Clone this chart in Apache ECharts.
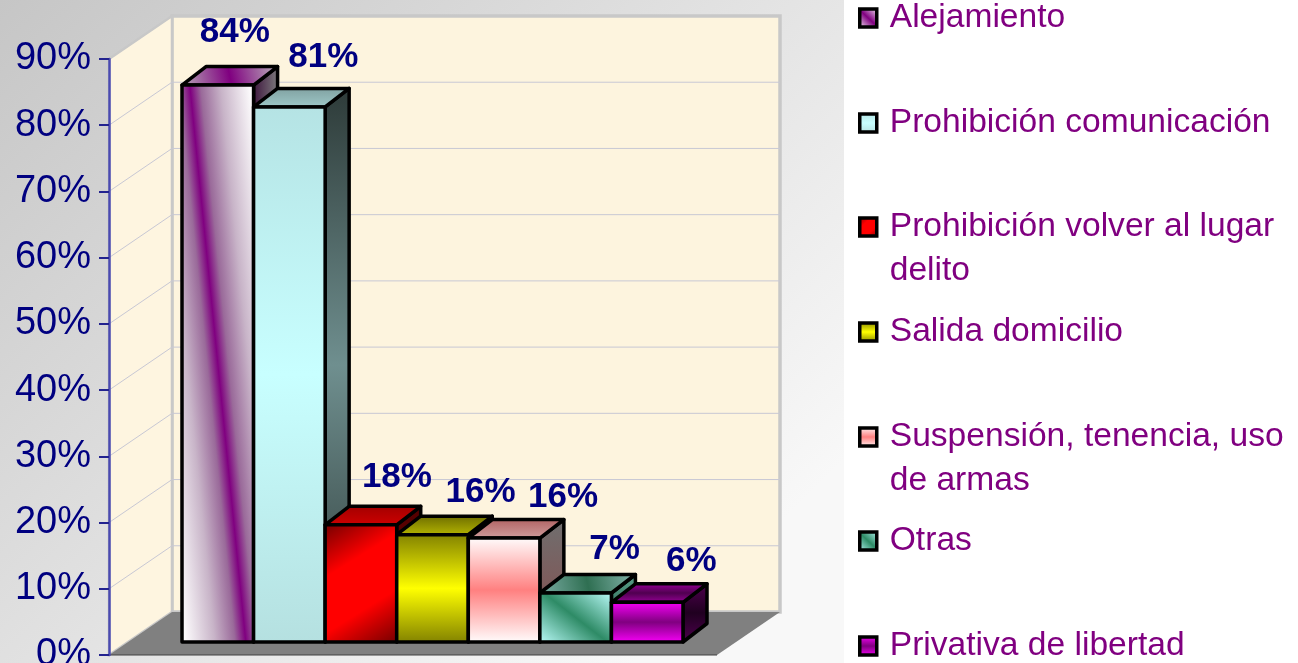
<!DOCTYPE html>
<html>
<head>
<meta charset="utf-8">
<style>html,body{margin:0;padding:0;background:#fff;overflow:hidden}#c{width:1298px;height:663px}</style>
<script src="https://cdn.jsdelivr.net/npm/echarts@6/dist/echarts.min.js"></script>
</head>
<body>
<div id="c"></div>
<script>
// ---- data ----
const categories = ['Alejamiento','Prohibición comunicación','Prohibición volver al lugar delito','Salida domicilio','Suspensión, tenencia, uso de armas','Otras','Privativa de libertad'];
const values = [84.1, 80.8, 17.7, 16.2, 15.7, 7.4, 6.0];
const legendLines = [['Alejamiento'],['Prohibición comunicación'],['Prohibición volver al lugar','delito'],['Salida domicilio'],['Suspensión, tenencia, uso','de armas'],['Otras'],['Privativa de libertad']];
const axisMax = 90, axisStep = 10;

// ---- styles ----
const FONT = '"Liberation Sans", Arial, sans-serif';
const g = (x,y,x2,y2,cols) => ({type:'linear',x,y,x2,y2,colorStops:cols.map((c,i)=>Array.isArray(c)?{offset:c[0],color:c[1]}:{offset:i/(cols.length-1),color:c})});
const purpleStops = [[0.04,'#ffffff'],[0.27,'#c8b4c8'],[0.42,'#9a6a9a'],[0.5,'#800080'],[0.58,'#9a6a9a'],[0.73,'#c8b4c8'],[0.96,'#ffffff']];
const barStyles = [
 {front:g(-0.39,0.512,1.39,0.488,purpleStops), icon:g(0,1,1,0,['#ffffff','#800080','#ffffff']), top:g(0,1,1,0,['#b8b0b8','#800080','#bcb8bc']), side:g(0,0,1,0,['#3a103a','#808080']), dx:17, dy:-53},
 {front:g(0,0,0,1,['#b5e3e4','#c8ffff','#b5e0e0']), top:g(0,0,0,1,['#7f9f9f','#a0caca']), side:g(0,0,0,1,['#2d3a38','#6f8f8f','#2d3a38']), dx:34, dy:-50},
 {front:g(0,0,1,1,['#700000','#ff0000','#ff0000','#700000']), top:g(0,0,0,1,['#a00000','#d00000']), side:g(0,0,0,1,['#500000','#800000']), dx:36, dy:-47},
 {front:g(0,0,0,1,['#808000','#ffff00','#808000']), top:g(0,0,0,1,['#6a6a00','#b8b800']), side:g(0,0,0,1,['#404000','#808000']), dx:48, dy:-42},
 {front:g(0,0,0,1,['#ffffff','#ff8080','#ffffff']), top:g(0,0,0,1,['#b06060','#d0a0a0']), side:g(0,0,0,1,['#6f6f6f','#8a4a4a']), dx:59, dy:-41},
 {front:g(0.144,1.16,0.856,-0.16,['#c0ffff','#2e8b66','#c0ffff']), icon:g(0,1,1,0,['#c0ffff','#2e8b66','#c0ffff']), top:g(0,1,1,0,['#7fb0a8','#2f6f52','#88b8b0']), side:g(0,1,1,0,['#1f5a44','#5a9f8a']), dx:39, dy:-44},
 {front:g(0,0,0,1,['#ff00ff','#800080','#ff00ff']), top:g(0,0,0,1,['#a000a0','#500050','#a000a0']), side:g(0,0,0,1,['#500050','#200020','#500050']), dx:44, dy:-41}
];
const WALL = {dx:63, dy:-43};
const BAR_DEPTH = {dx:24, dy:-18.5};
const legendCentres = [18,123,227,332,437,541,646];

// ---- renderers ----
function renderRoom(params, api){
  const cs = params.coordSys;
  const x0 = cs.x, x1 = cs.x + cs.width;
  const yAt = v => api.coord([0, v])[1];
  const y0 = yAt(0), yT = yAt(axisMax);
  const d = WALL, c = [];
  const grey = '#c8c8c8';
  c.push({type:'rect',shape:{x:x0+d.dx,y:yT+d.dy,width:x1-x0,height:y0-yT},style:{fill:'#fdf4de',stroke:grey,lineWidth:3.5}});
  c.push({type:'polygon',shape:{points:[[x0,yT],[x0+d.dx,yT+d.dy],[x0+d.dx,y0+d.dy],[x0,y0]]},style:{fill:'#fef5e0',stroke:grey,lineWidth:2.5}});
  for(let v=axisStep; v<axisMax; v+=axisStep){
    const y = yAt(v);
    c.push({type:'polyline',shape:{points:[[x0,y],[x0+d.dx,y+d.dy],[x1+d.dx,y+d.dy]]},style:{fill:'none',stroke:'#c8c8d4',lineWidth:1}});
  }
  c.push({type:'polygon',shape:{points:[[x0,y0],[x1,y0],[x1+d.dx,y0+d.dy],[x0+d.dx,y0+d.dy]]},style:{fill:'#808080'}});
  c.push({type:'line',shape:{x1:x0,y1:y0,x2:x1,y2:y0},style:{stroke:'#404040',lineWidth:1}});
  return {type:'group',children:c};
}
function barRenderer(i){
  return function(params, api){
    const s = barStyles[i], v = api.value(1);
    const base = api.coord([api.value(0), 0]), top = api.coord([api.value(0), v]);
    const w = api.size([1,0])[0];
    const l = base[0]-w/2, r = base[0]+w/2, b = base[1], t = top[1];
    const d = BAR_DEPTH;
    const st = fill => ({fill, stroke:'#000', lineWidth:3.5, lineJoin:'round'});
    return {type:'group',children:[
      {type:'polygon',shape:{points:[[r,t],[r+d.dx,t+d.dy],[r+d.dx,b+d.dy],[r,b]]},style:st(s.side)},
      {type:'polygon',shape:{points:[[l,t],[l+d.dx,t+d.dy],[r+d.dx,t+d.dy],[r,t]]},style:st(s.top)},
      {type:'rect',shape:{x:l,y:t,width:r-l,height:b-t},style:st(s.front)},
      {type:'text',style:{text:Math.round(v)+'%',x:base[0]+s.dx,y:t+s.dy,align:'center',verticalAlign:'middle',font:'bold 35px '+FONT,fill:'#000080'}}
    ]};
  };
}

// ---- chart ----
const chart = echarts.init(document.getElementById('c'), null, {renderer:'canvas'});
const LH = 44;
chart.setOption({
  animation:false,
  backgroundColor:'#ffffff',
  graphic:[{type:'rect',silent:true,z:-1,shape:{x:0,y:0,width:844,height:663},style:{fill:g(0,0,0.75,1,['#c6c6c6','#f8f8f8'])}}],
  grid:[
    {left:109,top:59,width:608,height:596,containLabel:false,outerBoundsMode:'none'},
    {left:182,top:46,width:501,height:596,containLabel:false,outerBoundsMode:'none'}
  ],
  xAxis:[
    {gridIndex:0,type:'category',data:categories,show:false},
    {gridIndex:1,type:'category',data:categories,show:false}
  ],
  yAxis:[
    {gridIndex:0,type:'value',min:0,max:axisMax,interval:axisStep,z:6,
     axisLine:{show:true,lineStyle:{color:'#4a4ab0',width:2.5}},
     axisTick:{show:true,length:10,lineStyle:{color:'#23238f',width:2}},
     axisLabel:{formatter:'{value}%',color:'#000080',fontSize:38,fontFamily:FONT,margin:18,hideOverlap:false,showMinLabel:true,showMaxLabel:true},
     splitLine:{show:false}},
    {gridIndex:1,type:'value',min:0,max:axisMax,interval:axisStep,show:false}
  ],
  legend:categories.map((name,i)=>{
    const lines = legendLines[i];
    const text = lines.length>1 ? '\n'+lines.join('\n') : lines[0];
    const h = (lines.length>1 ? 3 : 1)*LH;
    return {
      type:'plain',orient:'vertical',left:858,top:legendCentres[i]-h/2,padding:0,selectedMode:false,
      itemWidth:17,itemHeight:18,
      formatter:()=>text,
      textStyle:{fontFamily:FONT,fontSize:33.6,color:'#800080',lineHeight:LH,padding:[0,0,0,8]},
      data:[{name,icon:'rect',itemStyle:{color:barStyles[i].icon||barStyles[i].front,borderColor:'#000',borderWidth:3.5}}]
    };
  }),
  series:[
    {type:'custom',silent:true,xAxisIndex:0,yAxisIndex:0,z:1,clip:false,renderItem:renderRoom,data:[[categories[0],0]]},
    ...categories.map((name,i)=>({
      type:'custom',name,silent:true,xAxisIndex:1,yAxisIndex:1,z:3+i,clip:false,
      renderItem:barRenderer(i),data:[[name,values[i]]],
      itemStyle:{color:'#800080'}
    }))
  ]
});
</script>
</body>
</html>
